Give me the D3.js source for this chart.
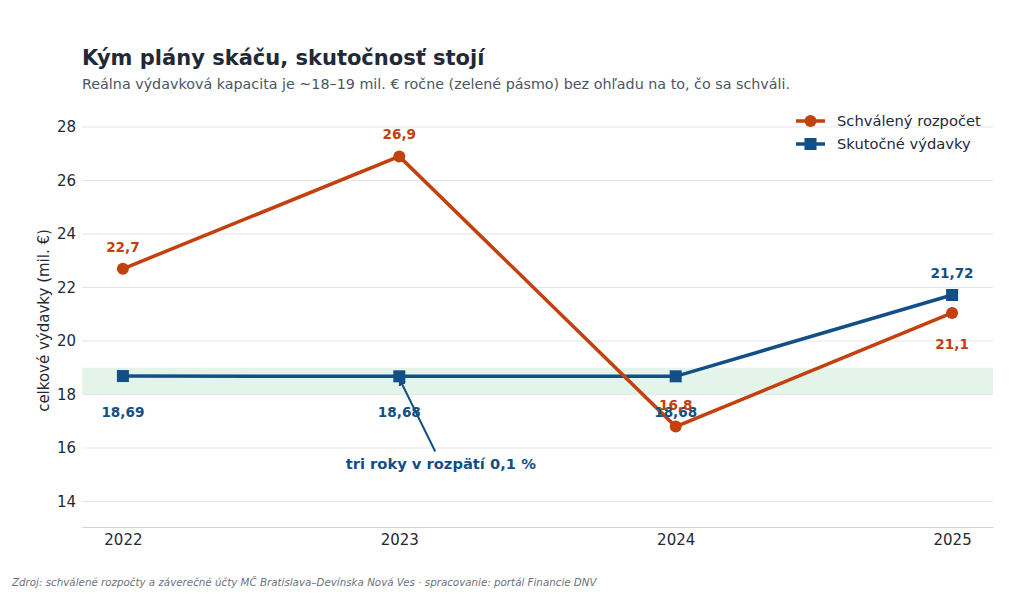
<!DOCTYPE html>
<html>
<head>
<meta charset="utf-8">
<script src="https://cdn.jsdelivr.net/npm/d3@7"></script>
<style>
  body { margin: 0; background: #fff; }
  svg { font-family: "DejaVu Sans", sans-serif; display: block; }
</style>
</head>
<body>
<div id="chart"></div>
<script>
// data
const years = [2022, 2023, 2024, 2025];
const budget = [22.7, 26.9, 16.8, 21.05];
const actual = [18.69, 18.68, 18.68, 21.72];
const yTicks = [14, 16, 18, 20, 22, 24, 26, 28];
const band = [18, 19];

const W = 1024, H = 593;
const plot = { left: 82, right: 993, top: 110, bottom: 527 };

const orange = '#c2410c', blue = '#134f87';

let svg = d3.select('#chart').append('svg')
  .attr('width', W).attr('height', H);

// scales
let x = d3.scaleLinear()
  .domain([2022 - 0.148, 2025 + 0.148])
  .range([plot.left, plot.right]);
let y = d3.scaleLinear()
  .domain([14, 28])
  .range([501.5, 127]);

const loc = d3.formatLocale({ decimal: ',', thousands: ' ', grouping: [3], currency: ['', '€'] });
const f1 = loc.format('.1f'), f2 = loc.format('.2f');

// title + subtitle
svg.append('text').attr('x', 82).attr('y', 65)
  .attr('font-size', 21).attr('font-weight', 'bold').attr('fill', '#1f2937')
  .text('Kým plány skáču, skutočnosť stojí');
svg.append('text').attr('x', 82).attr('y', 89)
  .attr('font-size', 14.3).attr('fill', '#4b5563')
  .text('Reálna výdavková kapacita je ~18–19 mil. € ročne (zelené pásmo) bez ohľadu na to, čo sa schváli.');

// grid
svg.append('g').selectAll('line').data(yTicks).join('line')
  .attr('x1', plot.left).attr('x2', plot.right)
  .attr('y1', d => y(d)).attr('y2', d => y(d))
  .attr('stroke', '#e2e5ec').attr('stroke-width', 1);

// green band
svg.append('rect')
  .attr('x', plot.left).attr('width', plot.right - plot.left)
  .attr('y', y(band[1])).attr('height', y(band[0]) - y(band[1]))
  .attr('fill', '#e5f4ea');

// y axis
let yAxis = svg.append('g')
  .attr('transform', 'translate(' + plot.left + ',0)')
  .call(d3.axisLeft(y).tickValues(yTicks).tickSize(0).tickPadding(6));
yAxis.select('.domain').remove();
yAxis.selectAll('text').attr('font-size', 15).attr('fill', '#1f2937')
  .attr('font-family', '"DejaVu Sans", sans-serif');

// x axis
let xAxis = svg.append('g')
  .attr('transform', 'translate(0,' + plot.bottom + ')')
  .call(d3.axisBottom(x).tickValues(years).tickFormat(d3.format('d')).tickSize(0).tickPadding(7));
xAxis.select('.domain').attr('stroke', '#cbd5e1');
xAxis.selectAll('text').attr('font-size', 15).attr('fill', '#1f2937')
  .attr('font-family', '"DejaVu Sans", sans-serif');

// y label
svg.append('text')
  .attr('transform', 'translate(49,' + ((plot.top + plot.bottom) / 2 + 2) + ') rotate(-90)')
  .attr('text-anchor', 'middle').attr('font-size', 15).attr('fill', '#1f2937')
  .text('celkové výdavky (mil. €)');

// lines
let line = d3.line().x((d, i) => x(years[i])).y(d => y(d));

svg.append('path').datum(actual)
  .attr('d', line).attr('fill', 'none')
  .attr('stroke', blue).attr('stroke-width', 3.5);
svg.append('g').selectAll('rect').data(actual).join('rect')
  .attr('x', (d, i) => x(years[i]) - 6).attr('y', d => y(d) - 6)
  .attr('width', 12).attr('height', 12).attr('fill', blue);

svg.append('path').datum(budget)
  .attr('d', line).attr('fill', 'none')
  .attr('stroke', orange).attr('stroke-width', 3.5);
svg.append('g').selectAll('circle').data(budget).join('circle')
  .attr('cx', (d, i) => x(years[i])).attr('cy', d => y(d))
  .attr('r', 6).attr('fill', orange);

// value labels: budget above except last, actual below except last
svg.append('g').selectAll('text').data(actual).join('text')
  .attr('x', (d, i) => x(years[i]))
  .attr('y', (d, i) => i === 3 ? y(d) - 17 : y(d) + 41)
  .attr('text-anchor', 'middle').attr('font-size', 13.6).attr('font-weight', 'bold')
  .attr('fill', blue)
  .text(d => f2(d));

svg.append('g').selectAll('text').data(budget).join('text')
  .attr('x', (d, i) => x(years[i]))
  .attr('y', (d, i) => i === 3 ? y(d) + 36 : y(d) - 17)
  .attr('text-anchor', 'middle').attr('font-size', 13.6).attr('font-weight', 'bold')
  .attr('fill', orange)
  .text(d => f1(d));

// annotation
svg.append('defs').append('marker')
  .attr('id', 'arr').attr('viewBox', '0 0 10 10')
  .attr('refX', 9).attr('refY', 5)
  .attr('markerWidth', 4).attr('markerHeight', 4)
  .attr('orient', 'auto')
  .append('path').attr('d', 'M0,0 L10,5 L0,10 z').attr('fill', blue);

svg.append('line')
  .attr('x1', x(2023.13)).attr('y1', y(15.87))
  .attr('x2', x(2023)).attr('y2', y(18.6))
  .attr('stroke', blue).attr('stroke-width', 2)
  .attr('marker-end', 'url(#arr)');
svg.append('text')
  .attr('x', x(2023.15)).attr('y', y(15.2))
  .attr('text-anchor', 'middle').attr('font-size', 14.7).attr('font-weight', 'bold')
  .attr('fill', blue)
  .text('tri roky v rozpätí 0,1 %');

// legend
const legendItems = [
  { name: 'Schválený rozpočet', color: orange, shape: 'circle' },
  { name: 'Skutočné výdavky', color: blue, shape: 'square' }
];
let lg = svg.append('g').selectAll('g').data(legendItems).join('g')
  .attr('transform', (d, i) => 'translate(796,' + (121 + i * 23) + ')');
lg.append('line').attr('x1', 0).attr('x2', 29)
  .attr('stroke', d => d.color).attr('stroke-width', 3.5);
lg.filter(d => d.shape === 'circle').append('circle')
  .attr('cx', 14.5).attr('r', 6).attr('fill', d => d.color);
lg.filter(d => d.shape === 'square').append('rect')
  .attr('x', 8.5).attr('y', -6).attr('width', 12).attr('height', 12).attr('fill', d => d.color);
lg.append('text').attr('x', 41).attr('y', 5)
  .attr('font-size', 14.7).attr('fill', '#1f2937')
  .text(d => d.name);

// footer
svg.append('text').attr('x', 12).attr('y', 586)
  .attr('font-size', 10.3).attr('font-style', 'italic').attr('fill', '#6b7280')
  .text('Zdroj: schválené rozpočty a záverečné účty MČ Bratislava–Devínska Nová Ves · spracovanie: portál Financie DNV');
</script>
</body>
</html>
